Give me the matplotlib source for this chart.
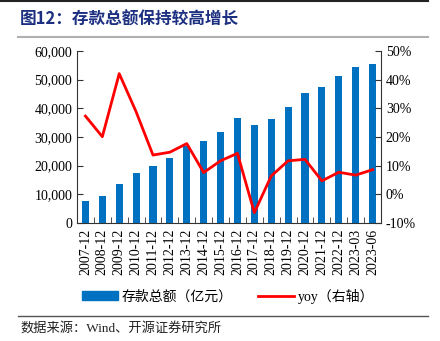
import numpy as np
import matplotlib
matplotlib.use("Agg")
import matplotlib.pyplot as plt
from matplotlib.lines import Line2D
from matplotlib.patches import Patch
from matplotlib.ticker import FuncFormatter, FixedLocator

plt.rcParams['font.family'] = ['Liberation Serif', 'Noto Sans CJK SC', 'DejaVu Sans']

# 数据
periods = ['2007-12', '2008-12', '2009-12', '2010-12', '2011-12', '2012-12',
           '2013-12', '2014-12', '2015-12', '2016-12', '2017-12', '2018-12',
           '2019-12', '2020-12', '2021-12', '2022-12', '2023-03', '2023-06']
deposits = [7700, 9500, 13500, 17300, 19800, 22700, 26900, 28600, 31900,
            36500, 34200, 36300, 40500, 45400, 47400, 51200, 54500, 55500]
yoy = [27.3, 20.1, 42.1, 28.8, 13.7, 14.7, 17.7, 7.6, 11.7,
       14.3, -6.4, 6.4, 11.7, 12.2, 4.7, 7.7, 6.7, 8.6]

bar_color = '#0070C0'
line_color = '#FF0000'
cjk = ['Noto Sans CJK SC', 'DejaVu Sans']
cjk_serif = ['Liberation Serif', 'Noto Sans CJK SC']

fig = plt.figure(figsize=(4.4, 3.41), dpi=100)

# 页眉线与标题
fig.add_artist(Line2D([0, 428 / 440], [1 - 1 / 341, 1 - 1 / 341], color='#222222', lw=1.5))
fig.add_artist(Line2D([18 / 440, 428 / 440], [1 - 37 / 341, 1 - 37 / 341], color='#b0b0b0', lw=1.5))
fig.text(20 / 440, 1 - 20 / 341, '图12：存款总额保持较高增长', family=cjk, fontsize=12,
         fontweight='bold', color='#1c2f80', va='center', ha='left')

ax = fig.add_axes([77 / 440, 1 - 223 / 341, (381 - 77) / 440, (223 - 51) / 341])
x = np.arange(len(periods))
ax.bar(x, deposits, width=0.42, color=bar_color, zorder=2)
ax.set_ylim(0, 60000)
ax.set_xlim(-0.5, len(periods) - 0.5)
ax.yaxis.set_major_formatter(FuncFormatter(lambda v, p: f'{int(v):,}'))
ax.set_yticks(np.arange(0, 60001, 10000))
ax.set_xticks(x)
ax.set_xticklabels(periods, rotation=90, fontsize=10)
ax.tick_params(axis='x', which='major', length=0, pad=4)
ax.xaxis.set_minor_locator(FixedLocator(np.arange(-0.5, len(periods), 1)))
ax.tick_params(axis='x', which='minor', direction='in', length=4, color='#333333')
ax.tick_params(axis='y', direction='in', length=4, labelsize=10, color='#333333')
for s in ['top', 'right']:
    ax.spines[s].set_visible(False)
for s in ['left', 'bottom']:
    ax.spines[s].set_color('#333333')

ax2 = ax.twinx()
ax2.plot(x, yoy, color=line_color, lw=2, zorder=3)
ax2.set_ylim(-10, 50)
ax2.set_yticks(np.arange(-10, 51, 10))
ax2.yaxis.set_major_formatter(FuncFormatter(lambda v, p: f'{int(v)}%'))
ax2.tick_params(axis='y', direction='in', length=4, labelsize=10, color='#333333')
for s in ['top', 'left', 'bottom']:
    ax2.spines[s].set_visible(False)
ax2.spines['right'].set_color('#333333')

handles = [Patch(color=bar_color), Line2D([0], [0], color=line_color, lw=2)]
fig.legend(handles, ['存款总额（亿元）', 'yoy（右轴）'], loc='center', ncol=2,
           bbox_to_anchor=(228 / 440, 1 - 296 / 341), frameon=False,
           prop={'family': cjk_serif, 'size': 10}, handlelength=2.6,
           handleheight=0.6, columnspacing=1.8, handletextpad=0.3)

fig.add_artist(Line2D([18 / 440, 428 / 440], [1 - 316 / 341, 1 - 316 / 341], color='#555555', lw=1))
fig.text(20 / 440, 1 - 328 / 341, '数据来源：Wind、开源证券研究所', family=cjk_serif,
         fontsize=9.5, color='#222222', va='center', ha='left')

fig.savefig('out.png', dpi=100)
